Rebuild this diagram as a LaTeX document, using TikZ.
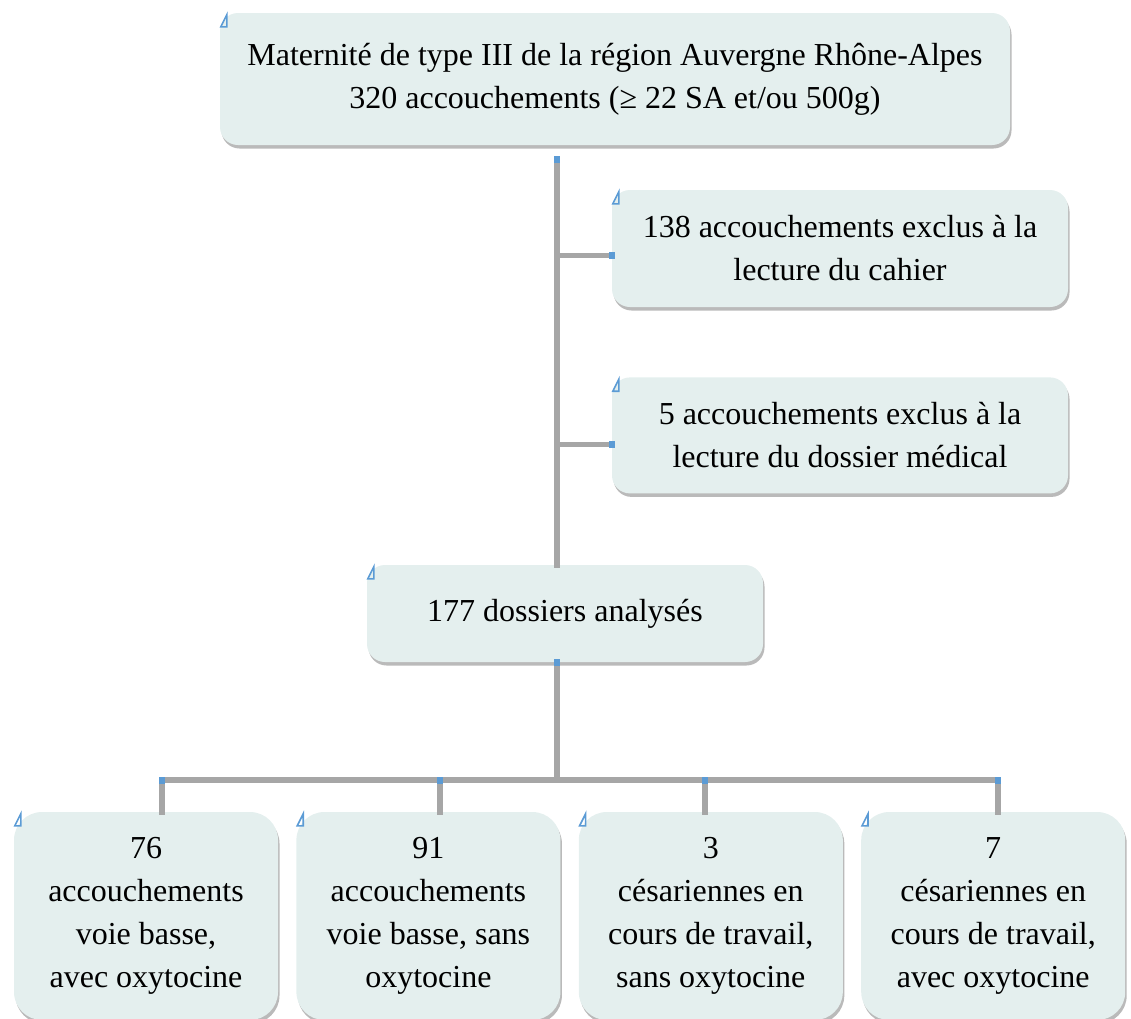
\documentclass[tikz,border=0pt]{standalone}
\usepackage{fontspec}
\setmainfont{Liberation Serif}
\usetikzlibrary{shapes,positioning,calc,shadows}

\definecolor{boxfill}{HTML}{E4EFEE}
\definecolor{linkgray}{HTML}{A6A6A6}
\definecolor{selblue}{HTML}{5B9BD5}

\tikzset{
  box/.style={rounded corners=18pt, fill=boxfill, align=center, inner sep=0pt,
    drop shadow={shadow xshift=1.5pt, shadow yshift=-3.5pt, opacity=0.45, fill=black!60},
    font={\fontsize{32}{43}\selectfont}},
  leaf/.style={box, rounded corners=28pt, minimum width=264pt, minimum height=208pt},
  link/.style={draw=linkgray, line width=5.5pt, line cap=rect},
}

\newcommand{\selmark}[1]{\draw[selblue, line width=1.6pt] ([shift={(7,2)}]#1.north west) -- ++(0,12) -- ++(-6,0) -- cycle;}
\newcommand{\handle}[1]{\fill[selblue] ([shift={(-3,-3.5)}]#1) rectangle ++(6,7);}

\begin{document}
\begin{tikzpicture}[x=1pt, y=-1pt]
  \useasboundingbox (0,0) rectangle (1131,1018);

  \node[box, minimum width=790pt, minimum height=132pt] (top) at (615,79) {Maternité de type III de la région Auvergne Rhône-Alpes\\320 accouchements (≥ 22 SA et/ou 500g)};
  \node[box, minimum width=456pt, minimum height=117pt] (excl1) at (840,248.5) {138 accouchements exclus à la\\lecture du cahier};
  \node[box, minimum width=456pt, minimum height=116pt, below=70pt of excl1] (excl2) {5 accouchements exclus à la\\lecture du dossier médical};
  \node[box, minimum width=396pt, minimum height=97pt] (analyses) at (565,613.5) {177 dossiers analysés};

  \node[leaf] (b1) at (146,916) {76\\accouchements\\voie basse,\\avec oxytocine};
  \node[leaf, right=18pt of b1] (b2) {91\\accouchements\\voie basse, sans\\oxytocine};
  \node[leaf, right=18pt of b2] (b3) {3\\césariennes en\\cours de travail,\\sans oxytocine};
  \node[leaf, right=18pt of b3] (b4) {7\\césariennes en\\cours de travail,\\avec oxytocine};

  \coordinate (trunk) at (557,159);
  \coordinate (c1) at ([yshift=-7pt]excl1.west);
  \coordinate (c2) at ([yshift=-9pt]excl2.west);
  \coordinate (c3) at (analyses.south -| trunk);
  \coordinate (d1) at (162,780);
  \coordinate (d2) at (440,780);
  \coordinate (d3) at (705,780);
  \coordinate (d4) at (998,780);

  \draw[link] (trunk) -- (trunk |- analyses.north);
  \draw[link] (trunk |- c1) -- (c1);
  \draw[link] (trunk |- c2) -- (c2);
  \draw[link] (c3) -- (trunk |- d1);
  \draw[link] (d1) -- (d4);
  \foreach \i in {1,...,4}
    \draw[link] (d\i) -- (d\i |- b\i.north);

  \foreach \n in {top, excl1, excl2, analyses, b1, b2, b3, b4}
    \selmark{\n};
  \foreach \h in {trunk, c1, c2, c3, d1, d2, d3, d4}
    \handle{\h};
\end{tikzpicture}
\end{document}
